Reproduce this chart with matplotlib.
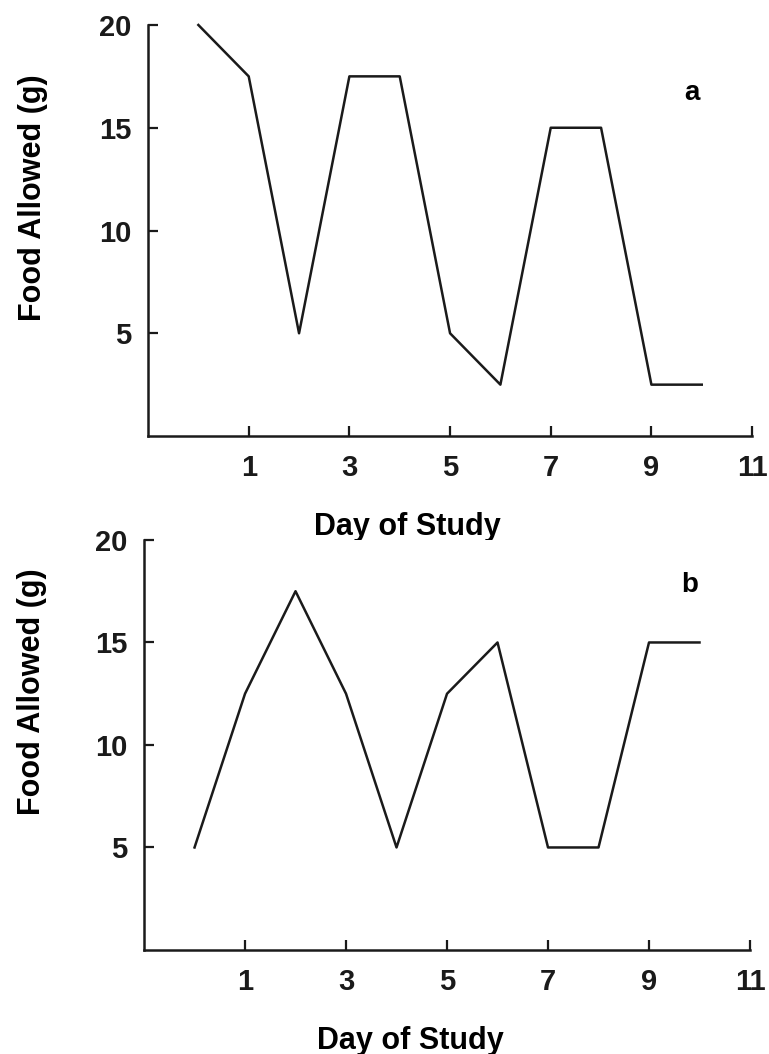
import matplotlib.pyplot as plt
import numpy as np

days = [0, 1, 2, 3, 4, 5, 6, 7, 8, 9, 10]
food_a = [20, 17.5, 5, 17.5, 17.5, 5, 2.5, 15, 15, 2.5, 2.5]
food_b = [5, 12.5, 17.5, 12.5, 5, 12.5, 15, 5, 5, 15, 15]
x_ticks = [1, 3, 5, 7, 9, 11]
y_ticks = [5, 10, 15, 20]

plt.rcParams['font.family'] = ['Liberation Sans', 'DejaVu Sans']
plt.rcParams['font.weight'] = 'bold'

fig = plt.figure(figsize=(7.69, 10.54), dpi=100)
ax_a = fig.add_axes([0.1925, 0.5863, 0.7855, 0.3900])
ax_b = fig.add_axes([0.1873, 0.0987, 0.7880, 0.3890])


def style(ax, data, letter, letter_pos, xlab_pos, ylab_pos):
    ax.plot(days, data, color='#1a1a1a', lw=1.8, clip_on=False)
    ax.set_xlim(-1, 11)
    ax.set_ylim(0, 20)
    ax.set_xticks(x_ticks)
    ax.set_yticks(y_ticks)
    for s in ['top', 'right']:
        ax.spines[s].set_visible(False)
    for s in ['left', 'bottom']:
        ax.spines[s].set_linewidth(1.8)
        ax.spines[s].set_color('#1a1a1a')
    ax.tick_params(direction='in', length=7, width=1.6, labelsize=21,
                   colors='#1a1a1a')
    ax.tick_params(axis='x', pad=13)
    ax.tick_params(axis='y', pad=12)
    ax.set_xlabel('Day of Study', fontsize=22, fontweight='bold')
    ax.set_ylabel('Food Allowed (g)', fontsize=22, fontweight='bold')
    ax.xaxis.set_label_coords(*xlab_pos)
    ax.yaxis.set_label_coords(*ylab_pos)
    ax.text(letter_pos[0], letter_pos[1], letter, transform=ax.transAxes,
            fontsize=20, fontweight='bold', ha='center', va='center')


style(ax_a, food_a, 'a', (0.9, 0.835), (0.43, -0.185), (-0.165, 0.58))
style(ax_b, food_b, 'b', (0.9, 0.89), (0.44, -0.185), (-0.16, 0.63))

fig.savefig('out.png', dpi=100)
